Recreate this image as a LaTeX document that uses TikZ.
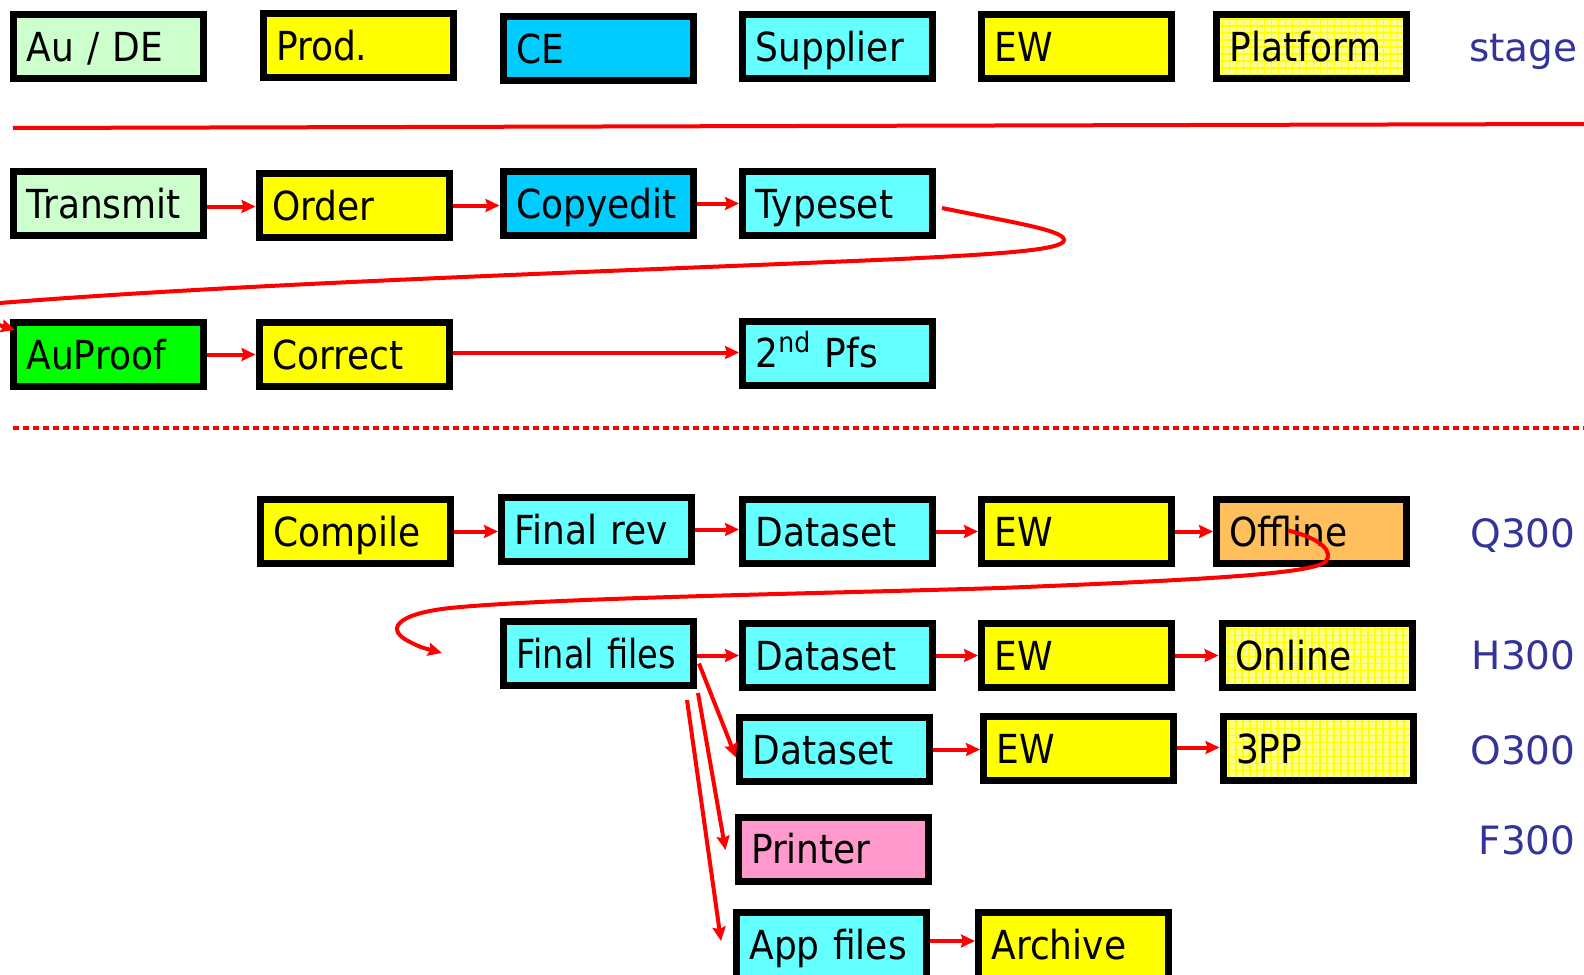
\documentclass[tikz,border=0pt]{standalone}
\usepackage{fontspec}
\setmainfont{DejaVu Sans}[FakeStretch=0.9]
\newfontfamily\lblfont{DejaVu Sans}
\newfontfamily\narrowfont{DejaVu Sans}[FakeStretch=0.84]
\usetikzlibrary{arrows.meta}
\definecolor{cgreen}{HTML}{CCFFCC}
\definecolor{cyel}{HTML}{FFFF00}
\definecolor{cce}{HTML}{00CCFF}
\definecolor{ccyan}{HTML}{66FFFF}
\definecolor{cgrn}{HTML}{00FF00}
\definecolor{corange}{HTML}{FFBF5C}
\definecolor{cpink}{HTML}{FF99CC}
\definecolor{cpale}{HTML}{FFFF8C}
\definecolor{labblue}{HTML}{333399}
\definecolor{cred}{HTML}{FF0000}
\newcommand{\boxfont}{\fontsize{20}{23}\selectfont}
\begin{document}
\begin{tikzpicture}[x=0.5pt,y=-0.5pt,
  box/.style={draw=black, line width=3.5pt, minimum width=95pt, minimum height=32pt,
    inner xsep=6.5pt, inner ysep=0pt, text width=82pt, align=left, font=\boxfont,
    text height=14.6pt, text depth=0pt},
  gridfill/.style={fill=cpale, path picture={\draw[cyel, line width=0.6pt]
    (path picture bounding box.south west) grid[step=3.5pt] (path picture bounding box.north east);}},
  arr/.style={cred, line width=2pt, -{Stealth[length=7pt,width=6.5pt,inset=1pt]}},
  lab/.style={text=labblue, font={\lblfont\fontsize{19.5}{22}\selectfont}, anchor=east,
    text height=14.2pt, text depth=0pt, inner sep=0pt},
  sepline/.style={cred, line width=2pt},
  dotline/.style={cred, line width=2.2pt, dash pattern=on 3pt off 2pt}
]
\useasboundingbox (0,0) rectangle (1584,974);

% header row
\node[box, fill=cgreen] (hAu) at (108.5,46.5) {Au / DE};
\node[box, fill=cyel] (hProd) at (358,45.5) {Prod.};
\node[box, fill=cce] (hCE) at (598,48.5) {CE};
\node[box, fill=ccyan] (hSup) at (837.5,46.5) {Supplier};
\node[box, fill=cyel] (hEW) at (1076.5,46.5) {EW};
\node[box, gridfill] (hPlat) at (1311.5,46.5) {Platform};
\node[lab] (lstage) at (1578,47.5) {stage};

\coordinate (l1a) at (13,128);
\coordinate (l1b) at (1584,124);
\draw[sepline] (l1a) -- (l1b);

% row 2
\node[box, fill=cgreen] (Transmit) at (108.5,203.5) {Transmit};
\node[box, fill=cyel] (Order) at (354,205.5) {Order};
\node[box, fill=cce] (Copyedit) at (598,203.5) {Copyedit};
\node[box, fill=ccyan] (Typeset) at (837.5,203.5) {Typeset};

% row 3
\node[box, fill=cgrn] (AuProof) at (108.5,354.5) {AuProof};
\node[box, fill=cyel] (Correct) at (354,354.5) {Correct};
\node[box, fill=ccyan] (Pfs) at (837.5,353) {2\textsuperscript{nd} Pfs};

\draw[arr] ([yshift=-1.5pt]Transmit.east) -- ([yshift=-1.5pt]Transmit.east -| Order.west);
\draw[arr] (Order.east) -- (Order.east -| Copyedit.west);
\draw[arr] (Copyedit.east) -- (Copyedit.east -| Typeset.west);
\draw[arr] ([shift={(6,4.5)}]Typeset.east)
  .. controls (1010,222) and (1064,230) .. (1064,240)
  .. controls (1064,250) and (1000,254) .. (900,259)
  .. controls (600,272) and (250,283) .. (0,303)
  .. controls (-40,307) and (-30,316) .. ([shift={(5,11)}]AuProof.north west);
\draw[arr] (AuProof.east) -- (AuProof.east -| Correct.west);
\draw[arr] ([yshift=1pt]Correct.east) -- ([yshift=1pt]Correct.east -| Pfs.west);

\coordinate (l2a) at (13,428);
\coordinate (l2b) at (1584,428);
\draw[dotline] (l2a) -- (l2b);

% row 4
\node[box, fill=cyel] (Compile) at (355.5,531.5) {Compile};
\node[box, fill=ccyan] (FinalRev) at (596.5,529.5) {Final rev};
\node[box, fill=ccyan] (Data1) at (837.5,531.5) {Dataset};
\node[box, fill=cyel] (EW1) at (1076.5,531.5) {EW};
\node[box, fill=corange] (Offline) at (1311.5,531.5) {Offline};
\node[lab] (lQ) at (1576,533) {Q300};

% row 5
\node[box, fill=ccyan] (FinalFiles) at (598.5,653.5) {\mbox{\narrowfont Final files}};
\node[box, fill=ccyan] (Data2) at (837.5,655.5) {Dataset};
\node[box, fill=cyel] (EW2) at (1076.5,655.5) {EW};
\node[box, gridfill] (Online) at (1317,655.5) {Online};
\node[lab] (lH) at (1576,655) {H300};

% row 6
\node[box, fill=ccyan] (Data3) at (834.5,749.5) {Dataset};
\node[box, fill=cyel] (EW3) at (1078.5,748.5) {EW};
\node[box, gridfill] (PP) at (1318,748.5) {3PP};
\node[lab] (lO) at (1576,750) {O300};

% row 7
\node[box, fill=cpink] (Printer) at (833,849) {Printer};
\node[lab] (lF) at (1576,840) {F300};

% row 8
\node[box, fill=ccyan, minimum height=33pt] (App) at (831.5,945) {App files};
\node[box, fill=cyel, minimum height=33pt] (Archive) at (1073.5,945) {Archive};

% row 4 arrows
\draw[arr] (Compile.east) -- (Compile.east -| FinalRev.west);
\draw[arr] (FinalRev.east) -- (FinalRev.east -| Data1.west);
\draw[arr] (Data1.east) -- (Data1.east -| EW1.west);
\draw[arr] (EW1.east) -- (EW1.east -| Offline.west);

\coordinate (hookend) at (442,653);
\draw[arr] ([shift={(75,-1)}]Offline.west)
  .. controls (1320,538) and (1335,552) .. (1325,562)
  .. controls (1310,574) and (1200,580) .. (1000,588)
  .. controls (800,594) and (550,598) .. (450,608)
  .. controls (395,614) and (385,630) .. (410,642)
  .. controls (420,647) .. (hookend);

% row 5 arrows
\draw[arr] ([yshift=-1pt]FinalFiles.east) -- ([yshift=-1pt]FinalFiles.east -| Data2.west);
\draw[arr] (Data2.east) -- (Data2.east -| EW2.west);
\draw[arr] (EW2.east) -- (EW2.east -| Online.west);

% row 6 arrows
\draw[arr] (Data3.east) -- (Data3.east -| EW3.west);
\draw[arr] ([yshift=0.5pt]EW3.east) -- ([yshift=0.5pt]EW3.east -| PP.west);

% fan-out from Final files
\draw[arr] ([shift={(2,10)}]FinalFiles.east) -- ([shift={(0,8)}]Data3.west);
\draw[arr] ([shift={(1,4)}]FinalFiles.south east) -- ([shift={(-9,1)}]Printer.west);
\draw[arr] ([shift={(-10,11)}]FinalFiles.south east) -- ([shift={(-12,-4)}]App.west);

% row 8 arrow
\draw[arr] ([yshift=2pt]App.east) -- ([yshift=2pt]App.east -| Archive.west);
\end{tikzpicture}
\end{document}
